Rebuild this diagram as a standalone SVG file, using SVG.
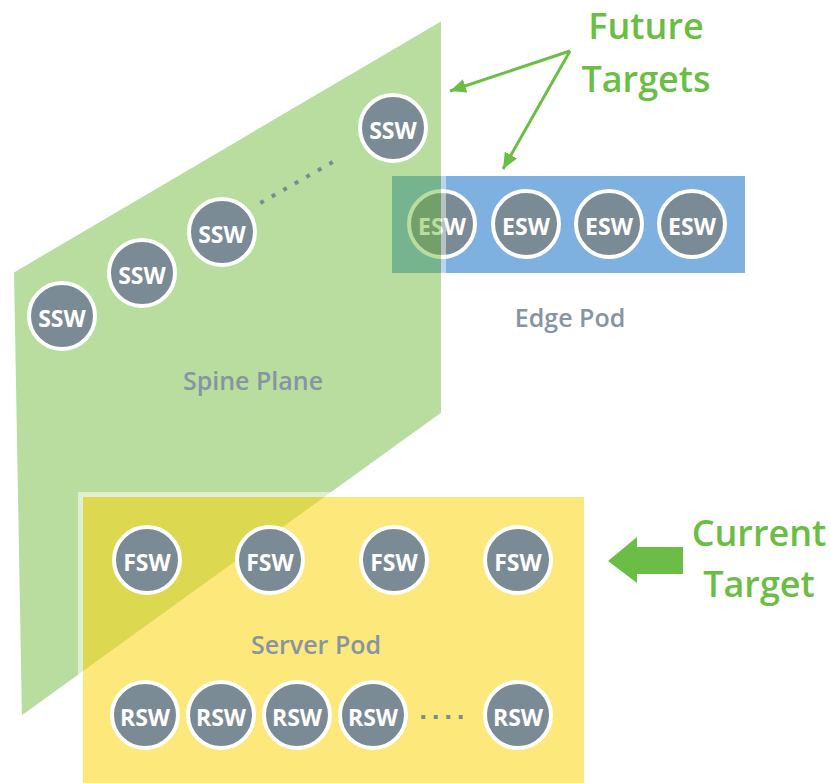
<svg xmlns="http://www.w3.org/2000/svg" width="831" height="783" viewBox="0 0 831 783">
<defs>
<style>
text{font-family:"Open Sans","Liberation Sans",sans-serif;font-weight:600;text-anchor:middle}
.node circle{fill:#7b8b96;stroke:#fff;stroke-width:4}
.node text{font-size:23px;font-weight:700;fill:#fff}
.lbl{font-size:25px;fill:#8794a1}
.gt{font-size:36px;fill:#6cbd45}
.dots{stroke:#7b8b96;stroke-width:4;fill:none}
.conn{stroke:#6cbd45;stroke-width:3;fill:none}
</style>
<marker id="ah" markerUnits="userSpaceOnUse" markerWidth="17" markerHeight="14" refX="16" refY="7" orient="auto">
<path d="M0,0 L16,7 L0,14 Z" fill="#6cbd45"/>
</marker>
</defs>
<rect width="831" height="783" fill="#fff"/>

<g id="edge-pod">
<rect x="392" y="176" width="353" height="97" fill="#7fb1e0"/>
</g>
<g id="esw1" class="node"><circle cx="442" cy="224" r="33"/><text x="442" y="235">ESW</text></g>
<g id="esw2" class="node"><circle cx="526" cy="224" r="33"/><text x="526" y="235">ESW</text></g>
<g id="esw3" class="node"><circle cx="609" cy="224" r="33"/><text x="609" y="235">ESW</text></g>
<g id="esw4" class="node"><circle cx="692" cy="224" r="33"/><text x="692" y="235">ESW</text></g>

<g id="spine-plane">
<polygon points="443.5,17 443.5,414 19.5,720 11.5,271" fill="#6ab935" stroke="#fff" stroke-width="5" opacity="0.47"/>
</g>
<g id="ssw1" class="node"><circle cx="62" cy="316" r="33"/><text x="62" y="327">SSW</text></g>
<g id="ssw2" class="node"><circle cx="142" cy="273" r="33"/><text x="142" y="284">SSW</text></g>
<g id="ssw3" class="node"><circle cx="222" cy="232" r="33"/><text x="222" y="243">SSW</text></g>
<g id="ssw4" class="node"><circle cx="393" cy="128" r="33"/><text x="393" y="139">SSW</text></g>
<path class="dots" d="M260.3,203 L332.7,162" stroke-dasharray="4 9.22"/>
<text class="lbl" x="253" y="390">Spine Plane</text>
<text class="lbl" x="570" y="327">Edge Pod</text>

<g id="server-pod">
<rect x="80.5" y="494.5" width="506" height="300" fill="#fbd610" stroke="#fff" stroke-width="5" opacity="0.55"/>
</g>
<g id="fsw1" class="node"><circle cx="147" cy="560" r="33"/><text x="147" y="571">FSW</text></g>
<g id="fsw2" class="node"><circle cx="270" cy="560" r="33"/><text x="270" y="571">FSW</text></g>
<g id="fsw3" class="node"><circle cx="394" cy="560" r="33"/><text x="394" y="571">FSW</text></g>
<g id="fsw4" class="node"><circle cx="518" cy="560" r="33"/><text x="518" y="571">FSW</text></g>
<text class="lbl" x="316" y="654">Server Pod</text>
<g id="rsw1" class="node"><circle cx="145" cy="715" r="33"/><text x="145" y="726">RSW</text></g>
<g id="rsw2" class="node"><circle cx="221" cy="715" r="33"/><text x="221" y="726">RSW</text></g>
<g id="rsw3" class="node"><circle cx="297" cy="715" r="33"/><text x="297" y="726">RSW</text></g>
<g id="rsw4" class="node"><circle cx="373" cy="715" r="33"/><text x="373" y="726">RSW</text></g>
<g id="rsw5" class="node"><circle cx="518" cy="715" r="33"/><text x="518" y="726">RSW</text></g>
<path class="dots" d="M421.3,717 L462.7,717" stroke-dasharray="4 8.5"/>

<g id="future-targets">
<text class="gt" x="646" y="39">Future</text>
<text class="gt" x="646" y="92">Targets</text>
</g>
<g id="current-target">
<text class="gt" x="759" y="546">Current</text>
<text class="gt" x="759" y="597">Target</text>
</g>

<g id="connectors">
<path class="conn" d="M570,51 L450,91" marker-end="url(#ah)"/>
<path class="conn" d="M570,51 L503,169" marker-end="url(#ah)"/>
<polygon points="608,561 637,537 637,547 683,547 683,574 637,574 637,583" fill="#6cbd45"/>
</g>
</svg>
